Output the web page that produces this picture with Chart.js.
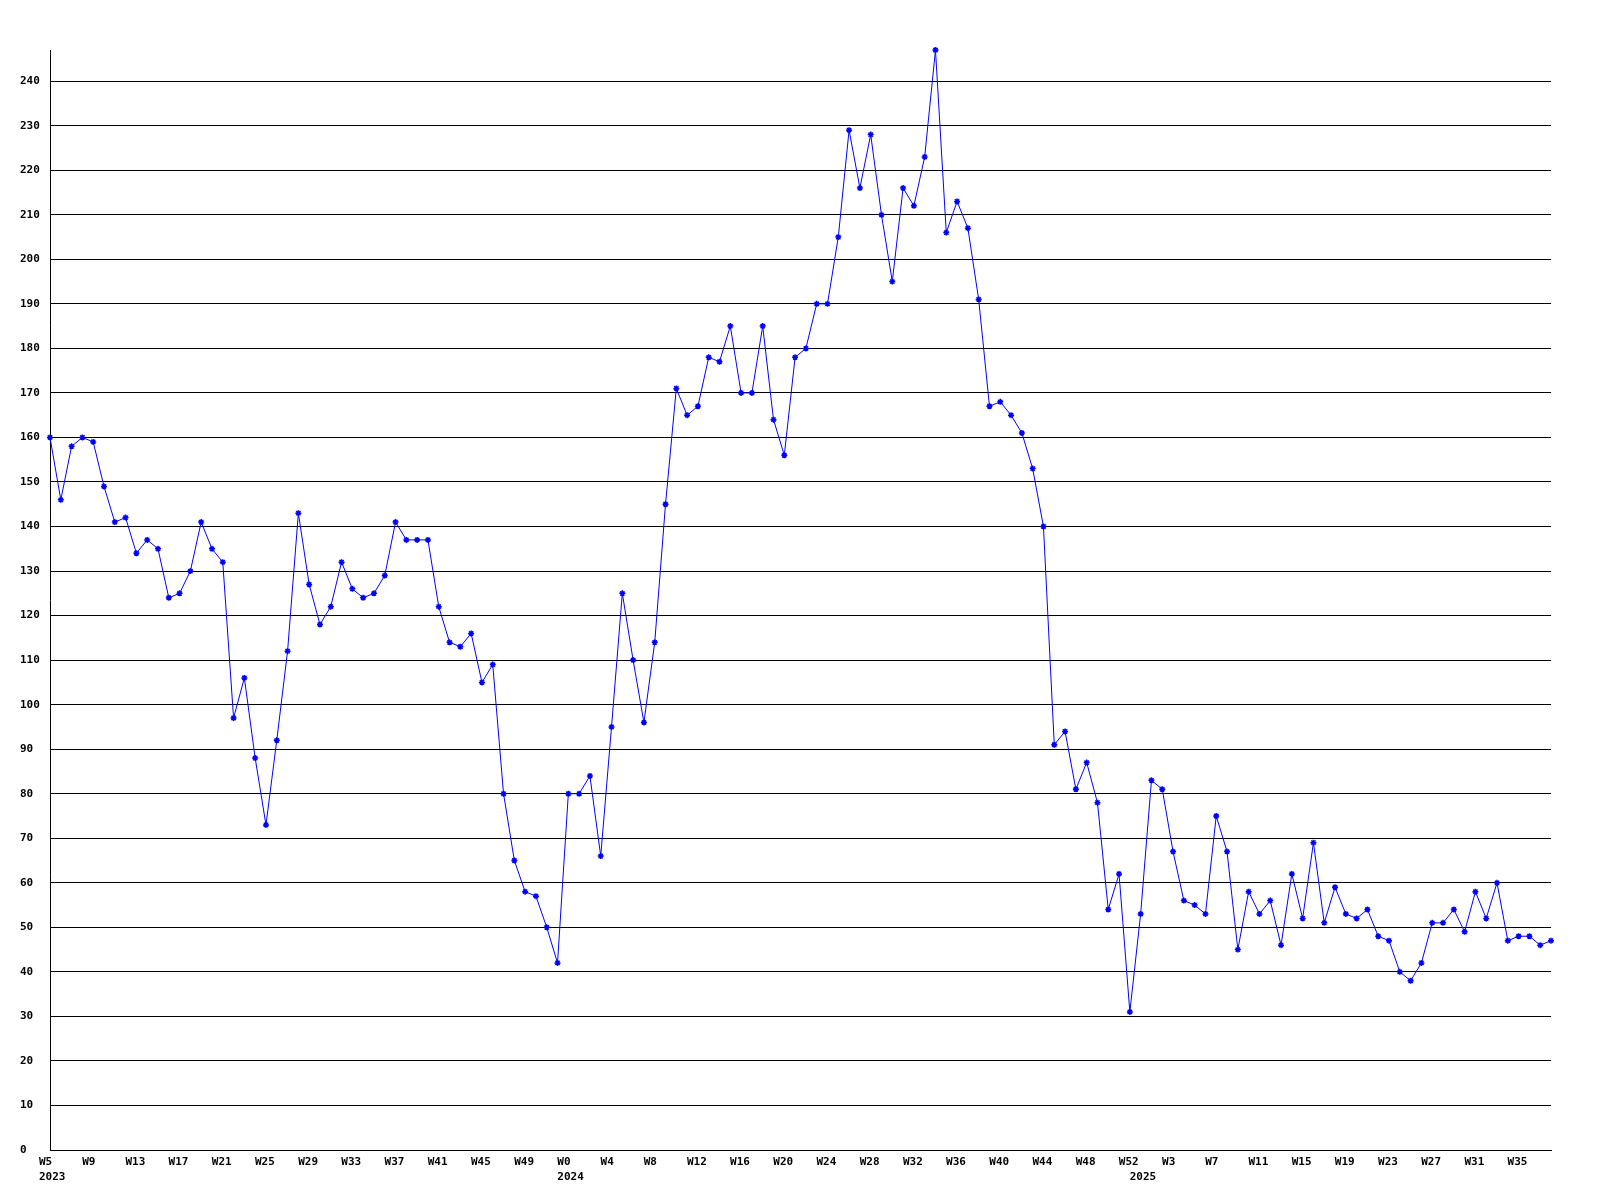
<!DOCTYPE html>
<html>
<head>
<meta charset="utf-8">
<script src="https://cdn.jsdelivr.net/npm/chart.js@4"></script>
<style>
  body { margin: 0; background: #fff; }
  #wrap { width: 1600px; height: 1200px; }
</style>
</head>
<body>
<div id="wrap"><canvas id="linechart" width="1600" height="1200"></canvas></div>
<script>
// week ranges per year: [year, first week, last week]
const weekRanges = [
  ["2023", 5, 52],
  ["2024", 0, 52],
  ["2025", 0, 38],
];

const values2023 = [
  160, 146, 158, 160, 159, 149, 141, 142, 134, 137, 135, 124, 125, 130, 141, 135,
  132, 97, 106, 88, 73, 92, 112, 143, 127, 118, 122, 132, 126, 124, 125, 129,
  141, 137, 137, 137, 122, 114, 113, 116, 105, 109, 80, 65, 58, 57, 50, 42,
];
const values2024 = [
  80, 80, 84, 66, 95, 125, 110, 96, 114, 145, 171, 165, 167, 178, 177, 185,
  170, 170, 185, 164, 156, 178, 180, 190, 190, 205, 229, 216, 228, 210, 195, 216,
  212, 223, 247, 206, 213, 207, 191, 167, 168, 165, 161, 153, 140, 91, 94, 81,
  87, 78, 54, 62, 31,
];
const values2025 = [
  53, 83, 81, 67, 56, 55, 53, 75, 67, 45, 58, 53, 56, 46, 62, 52,
  69, 51, 59, 53, 52, 54, 48, 47, 40, 38, 42, 51, 51, 54, 49, 58,
  52, 60, 47, 48, 48, 46, 47,
];

const yMin = 0;
const yMax = 247;
const yStep = 10;

// build categories + year marks
const categories = [];
const yearAt = {};
weekRanges.forEach(function (r) {
  yearAt[categories.length] = r[0];
  for (let w = r[1]; w <= r[2]; w++) categories.push("W" + w);
});
const values = values2023.concat(values2024, values2025);

document.addEventListener("DOMContentLoaded", function () {
  const ctx = document.getElementById("linechart").getContext("2d");
  const tickFont = { family: "'DejaVu Sans Mono', monospace", size: 11, weight: "bold", lineHeight: 1.36 };

  new Chart(ctx, {
    type: "line",
    data: {
      labels: categories,
      datasets: [
        {
          data: values,
          borderColor: "#0000ff",
          backgroundColor: "#0000ff",
          borderWidth: 1,
          pointStyle: "star",
          pointRadius: 3,
          pointBorderWidth: 1.5,
          pointBorderColor: "#0000ff",
          tension: 0,
          clip: false,
        },
      ],
    },
    options: {
      responsive: false,
      animation: false,
      devicePixelRatio: 1,
      layout: { padding: { left: 20, top: 50, right: 49, bottom: 0 } },
      plugins: { legend: { display: false }, tooltip: { enabled: false } },
      scales: {
        x: {
          offset: false,
          grid: { display: false, drawTicks: false },
          border: { display: true, color: "#000", width: 1 },
          ticks: {
            autoSkip: false,
            maxRotation: 0,
            minRotation: 0,
            align: "start",
            labelOffset: -11,
            padding: 5,
            color: "#000",
            font: tickFont,
            callback: function (val, i) {
              const yr = yearAt[i];
              if (i % 4 === 0) return yr ? [categories[i], yr] : categories[i];
              if (yr) return ["", yr];
              return null;
            },
          },
          afterFit: function (scale) { scale.height = 50; },
        },
        y: {
          min: yMin,
          max: yMax,
          grid: { color: "#000", lineWidth: 1, drawTicks: false },
          border: { display: true, color: "#000", width: 1 },
          ticks: {
            stepSize: yStep,
            includeBounds: false,
            crossAlign: "far",
            color: "#000",
            font: tickFont,
          },
          afterFit: function (scale) { scale.width = 30; },
        },
      },
    },
  });
});
</script>
</body>
</html>
